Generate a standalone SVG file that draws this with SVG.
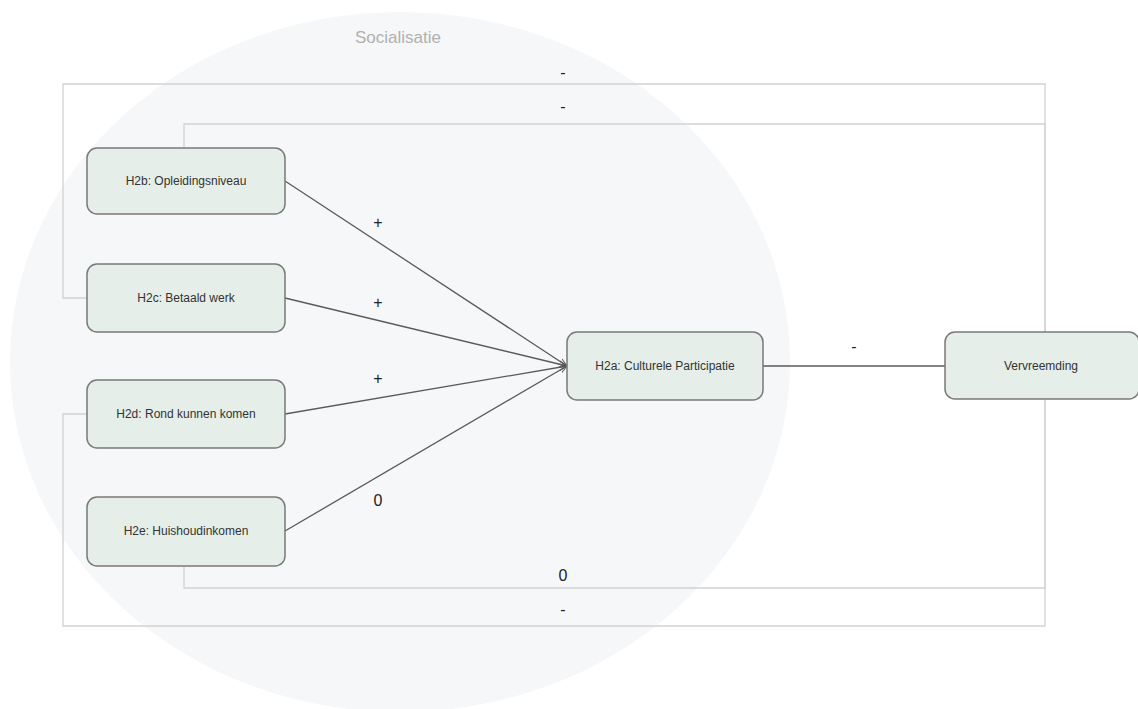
<svg xmlns="http://www.w3.org/2000/svg" width="1138" height="709" viewBox="0 0 1138 709">
<defs>
<style>
.node rect{fill:#e5eee8;stroke:#7a7a7a;stroke-width:1.5}
.node text{font-family:"Liberation Sans",Arial,sans-serif;font-size:12px;fill:#333;text-anchor:middle;dominant-baseline:central}
.lbl{font-family:"Liberation Sans",Arial,sans-serif;font-size:16px;fill:#222;text-anchor:middle}
.conn{fill:none;stroke:#5a5a5a;stroke-width:1.3}
.loop{fill:none;stroke:#d2d2d2;stroke-width:1.3}
</style>
<marker id="arr" viewBox="0 0 10 10" refX="10" refY="5" markerWidth="8" markerHeight="8" orient="auto" markerUnits="userSpaceOnUse">
<path d="M0,1 L10,5 L0,9" fill="none" stroke="#555" stroke-width="1.2"/>
</marker>
</defs>
<rect width="1138" height="709" fill="#ffffff"/>
<ellipse cx="400" cy="362" rx="390" ry="350" fill="#f6f7f9"/>
<text x="398" y="43" font-family="Liberation Sans,Arial,sans-serif" font-size="17" fill="#b0b0b0" text-anchor="middle">Socialisatie</text>
<g id="connectors">
<polyline class="loop" points="87,298 63,298 63,84 1045,84 1045,332"/>
<polyline class="loop" points="184,148 184,124 1045,124 1045,332"/>
<polyline class="loop" points="184,566 184,588 1045,588 1045,400"/>
<polyline class="loop" points="87,414 63,414 63,626 1045,626 1045,400"/>
<line class="conn" x1="285" y1="181" x2="567" y2="366" marker-end="url(#arr)"/>
<line class="conn" x1="285" y1="298" x2="567" y2="366" marker-end="url(#arr)"/>
<line class="conn" x1="285" y1="414" x2="567" y2="366" marker-end="url(#arr)"/>
<line class="conn" x1="285" y1="531" x2="567" y2="366" marker-end="url(#arr)"/>
<line class="conn" x1="763" y1="366" x2="945" y2="366"/>
<text class="lbl" x="563" y="78">-</text>
<text class="lbl" x="563" y="112">-</text>
<text class="lbl" x="563" y="581">0</text>
<text class="lbl" x="563" y="615">-</text>
<text class="lbl" x="378" y="228">+</text>
<text class="lbl" x="378" y="308">+</text>
<text class="lbl" x="378" y="384">+</text>
<text class="lbl" x="378" y="506">0</text>
<text class="lbl" x="854" y="352">-</text>
</g>
<g id="H2b" class="node"><rect x="87" y="148" width="198" height="66" rx="10"/><text x="186" y="181">H2b: Opleidingsniveau</text></g>
<g id="H2c" class="node"><rect x="87" y="264" width="198" height="68" rx="10"/><text x="186" y="298">H2c: Betaald werk</text></g>
<g id="H2d" class="node"><rect x="87" y="380" width="198" height="68" rx="10"/><text x="186" y="414">H2d: Rond kunnen komen</text></g>
<g id="H2e" class="node"><rect x="87" y="497" width="198" height="69" rx="10"/><text x="186" y="531">H2e: Huishoudinkomen</text></g>
<g id="H2a" class="node"><rect x="567" y="332" width="196" height="68" rx="10"/><text x="665" y="366">H2a: Culturele Participatie</text></g>
<g id="Vervreemding" class="node"><rect x="945" y="332" width="194" height="67" rx="10"/><text x="1041" y="366">Vervreemding</text></g>
</svg>
